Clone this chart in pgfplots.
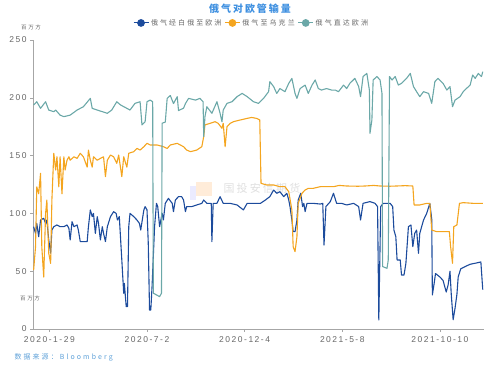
\documentclass[border=0pt]{standalone}
\usepackage{fontspec}
\setmainfont{Liberation Sans}
\newfontfamily\cjk[LetterSpace=30]{Noto Sans CJK SC}
\newfontfamily\cjktitle[LetterSpace=20]{Noto Sans CJK SC}
\newfontfamily\tickfont[LetterSpace=18]{Liberation Sans}
\usepackage{pgfplots}
\pgfplotsset{compat=1.18}
\definecolor{cblue}{HTML}{1C4B9C}
\definecolor{corange}{HTML}{F4A51F}
\definecolor{cteal}{HTML}{6BA8A8}
\definecolor{ctitle}{HTML}{3D8FE0}
\definecolor{csrc}{HTML}{5DA0D8}
\definecolor{cgray}{HTML}{666666}
\pgfplotstableread{
x y
-25 88.5
-22 82.7
-20 91.3
-17 79.8
-14 94.3
-9 95.8
-6 91.3
-4 94.3
-1 77
2 65.5
4 85.6
7 88.5
12 90
17 88.5
23 88.5
28 90
31 87.1
33 77
36 92.8
39 88.5
44 90
46 85.6
49 75.6
54 75.6
60 75.6
62 88.5
65 103
68 97.2
70 100
73 82.7
76 97.2
78 91.3
81 77
84 88.5
86 82.7
89 75.6
92 88.5
97 97.2
102 101.5
106 100
108 94.3
111 97.2
115 59.7
118 30.9
119 39.5
122 19.3
124 19.3
126 88.5
128 100
134 97.2
139 94.3
143 91.3
145 85.6
150 103
152 105.9
155 103
157 74.1
159 16.4
161 16.4
163 36.6
167 88.5
170 108.7
172 105.9
175 88.5
179 100
181 94.3
184 108.7
189 113
195 108.7
197 101.5
200 111.6
205 114.5
210 114.5
213 111.6
216 101.5
218 105.9
226 105.9
234 107.3
242 108.7
245 111.6
250 108.7
255 108.7
257 108.7
258 75.6
260 108.7
266 108.7
271 114.5
276 108.7
287 108.7
298 107.3
308 103
314 108.7
324 108.7
335 108.7
343 111.6
350 114.5
356 120.2
361 117.4
366 118.8
372 114.5
377 117.4
380 111.6
382 105.9
385 94.3
387 84.2
390 84.2
393 94.3
395 111.6
399 117.4
402 105.9
404 108.7
406 101.5
409 108.7
419 108.7
430 108.1
434 108.7
436 72.7
439 105.9
446 110.2
451 117.4
456 108.7
464 108.7
472 107.3
483 108.7
491 105.9
494 94.3
498 108.7
509 110.2
517 108.7
521 105.9
523 7.8
526 105.9
530 108.7
541 108.7
545 105.9
547 85.6
550 79.8
552 59.7
557 59.7
559 46.7
563 46.7
566 56.8
570 88.5
574 90
577 71.2
580 82.7
583 85.6
586 65.5
588 82.7
591 88.5
594 94.3
599 100
604 108.7
607 95
608 29.4
611 40
613 48
620 45
625 42
630 32
633 38
636 50
638 30
641 8
644 18
647 30
649 45
653 52
660 54
668 56
677 57
685 58
688 34
}\blue
\pgfplotstableread{
x y
-25 51
-22 71
-20 123
-17 117
-14 134.7
-12 71
-9 45
-6 100
-4 111.6
-1 65.5
2 56.8
4 111.6
7 152
10 137.5
12 149
15 123
17 149
20 117
23 149
25 137.5
28 146
31 149
33 146
39 149
44 147.6
49 152
54 149
60 140
62 154.8
65 146
68 140
70 149
76 146
81 147.6
86 149
89 131.8
92 146
97 150.5
102 149
107 143.3
110 150.5
115 131.8
118 149
123 140
126 152
134 153.4
139 156.2
144 154.8
150 157.7
155 160.6
160 159.2
171 159.2
181 157.7
187 156.2
192 159.2
203 160.6
213 157.7
218 154.8
224 153.4
234 154.8
242 157.7
245 166.4
247 176.5
255 177.9
263 179.3
268 177.9
274 173.6
276 177.9
279 157.7
282 175
287 177.9
292 179.3
303 180.8
314 182.2
321 183
329 182.2
334 180.8
336 126
345 124.6
356 124.6
366 123.1
374 123.1
380 118.8
385 103
387 71.2
390 66.9
393 79.8
395 108.7
401 117.4
406 120.2
411 121.7
419 121.7
430 123.1
440 123.1
451 123.1
460 124.2
472 123.7
490 123.5
501 123.7
515 124.2
525 123.7
540 123.5
551 123.7
565 124.0
577 123.7
579 107.3
588 107.3
599 108.7
604 108.7
607 85.6
615 84.2
625 84.2
635 84.2
637 71.2
640 56.8
642 88.5
647 90
651 108.7
657 109.3
673 108.7
688 108.7
}\orange
\pgfplotstableread{
x y
-25 193.8
-20 196.6
-14 190.9
-6 196.6
-1 189.4
7 188
10 189.4
17 185
23 183.7
33 185
44 189.4
54 192.3
65 199.5
68 190.9
76 189.4
84 188
92 186.6
99 189.4
107 196.6
113 193.8
123 190.9
128 189.4
136 195.2
144 196.6
147 176.5
152 179.3
155 196.6
160 198
164 196.6
165 31
175 28
178 31
179 178
184 179
187 199.5
192 202
197 195
203 201
205 189
213 191
216 195
221 199.5
232 198
239 199.5
244 196.6
245 166.4
247 183.7
250 192.3
258 186.6
266 196.6
271 186.6
274 179.3
276 189.4
282 195.2
290 196.6
298 201
306 203.8
314 201
324 196.6
332 195.2
340 199.5
348 205.3
350 214
356 209.7
361 203.8
366 208
374 205.3
380 212.5
385 216.8
390 203.8
393 199.5
398 208
406 211
411 203.8
417 211
422 215.4
427 208
432 206.7
440 208
448 206.7
454 206.7
459 205.3
467 211
472 208
477 212.5
485 216.8
491 209.7
494 201
498 218.4
504 221.1
508 206.7
509 169.3
512 180.8
514 215.4
520 218.4
525 215.4
528 203.8
529 54
536 52.5
538 59.7
540 218.4
544 215.4
549 218.4
554 211
559 212.5
567 216.8
573 221.1
578 209.7
583 205.3
588 201
594 205.3
602 203.8
607 195.2
612 214
617 216.8
625 212.5
631 206.7
636 209.7
640 192.3
644 198
652 201
657 205.3
662 208
668 211
672 219.7
676 216.8
681 221.1
686 218.4
688 222.6
}\teal
\begin{document}
\begin{tikzpicture}[x=1bp,y=1bp]
\useasboundingbox (0,0) rectangle (500,366);
\node[text=ctitle,font=\cjktitle\bfseries\fontsize{10}{12}\selectfont] at (250,357) {俄气对欧管输量};
\node[text=cgray,font=\cjk\fontsize{5.5}{6}\selectfont] at (31,339) {百万方};
\node[text=cgray,font=\cjk\fontsize{5.5}{6}\selectfont] at (30,68) {百万方};
\node[text=csrc,anchor=west,font=\cjk\fontsize{7}{8}\selectfont] at (11,9) {数据来源：Bloomberg};
\node[text=gray!25,font=\cjktitle\fontsize{11}{12}\selectfont,anchor=west] at (220,178) {国投安信期货};
\fill[orange!15] (196,170) rectangle (212,184);
\fill[blue!8] (190,166) rectangle (196,180);
\begin{axis}[
  at={(33bp,37bp)}, anchor=south west,
  scale only axis, width=451bp, height=289bp,
  xmin=-26, xmax=690, ymin=0, ymax=250,
  xtick={0,155,310,465,620},
  xticklabels={2020-1-29,2020-7-2,2020-12-4,2021-5-8,2021-10-10},
  ytick={0,50,100,150,200,250},
  axis x line*=bottom, axis y line*=left,
  axis line style={draw=gray!70, line width=0.8bp},
  tick style={draw=gray!70, line width=0.6bp},
  tick align=outside, major tick length=3bp,
  ticklabel style={font=\tickfont\fontsize{8.5}{10}\selectfont, text=cgray},
  /pgf/number format/assume math mode=true,
  xticklabel style={yshift=-1bp},
  legend columns=3,
  legend style={at={(axis description cs:0.4845,1.059)}, anchor=center, draw=none, fill=none,
    font=\cjk\fontsize{7}{8}\selectfont, text=cgray,
    /tikz/every even column/.append style={column sep=1bp}},
  legend image code/.code={\draw[#1,line width=1bp] (0bp,0bp) -- (15bp,0bp); \fill[#1] (7.5bp,0bp) circle (3.3bp);},
  every axis plot/.append style={line width=1.1bp, line join=round},
]
\addplot[cblue, mark=none] table {\blue};
\addlegendentry{俄气经白俄至欧洲}
\addplot[corange, mark=none] table {\orange};
\addlegendentry{俄气至乌克兰}
\addplot[cteal, mark=none] table {\teal};
\addlegendentry{俄气直达欧洲}
\end{axis}
\end{tikzpicture}
\end{document}
